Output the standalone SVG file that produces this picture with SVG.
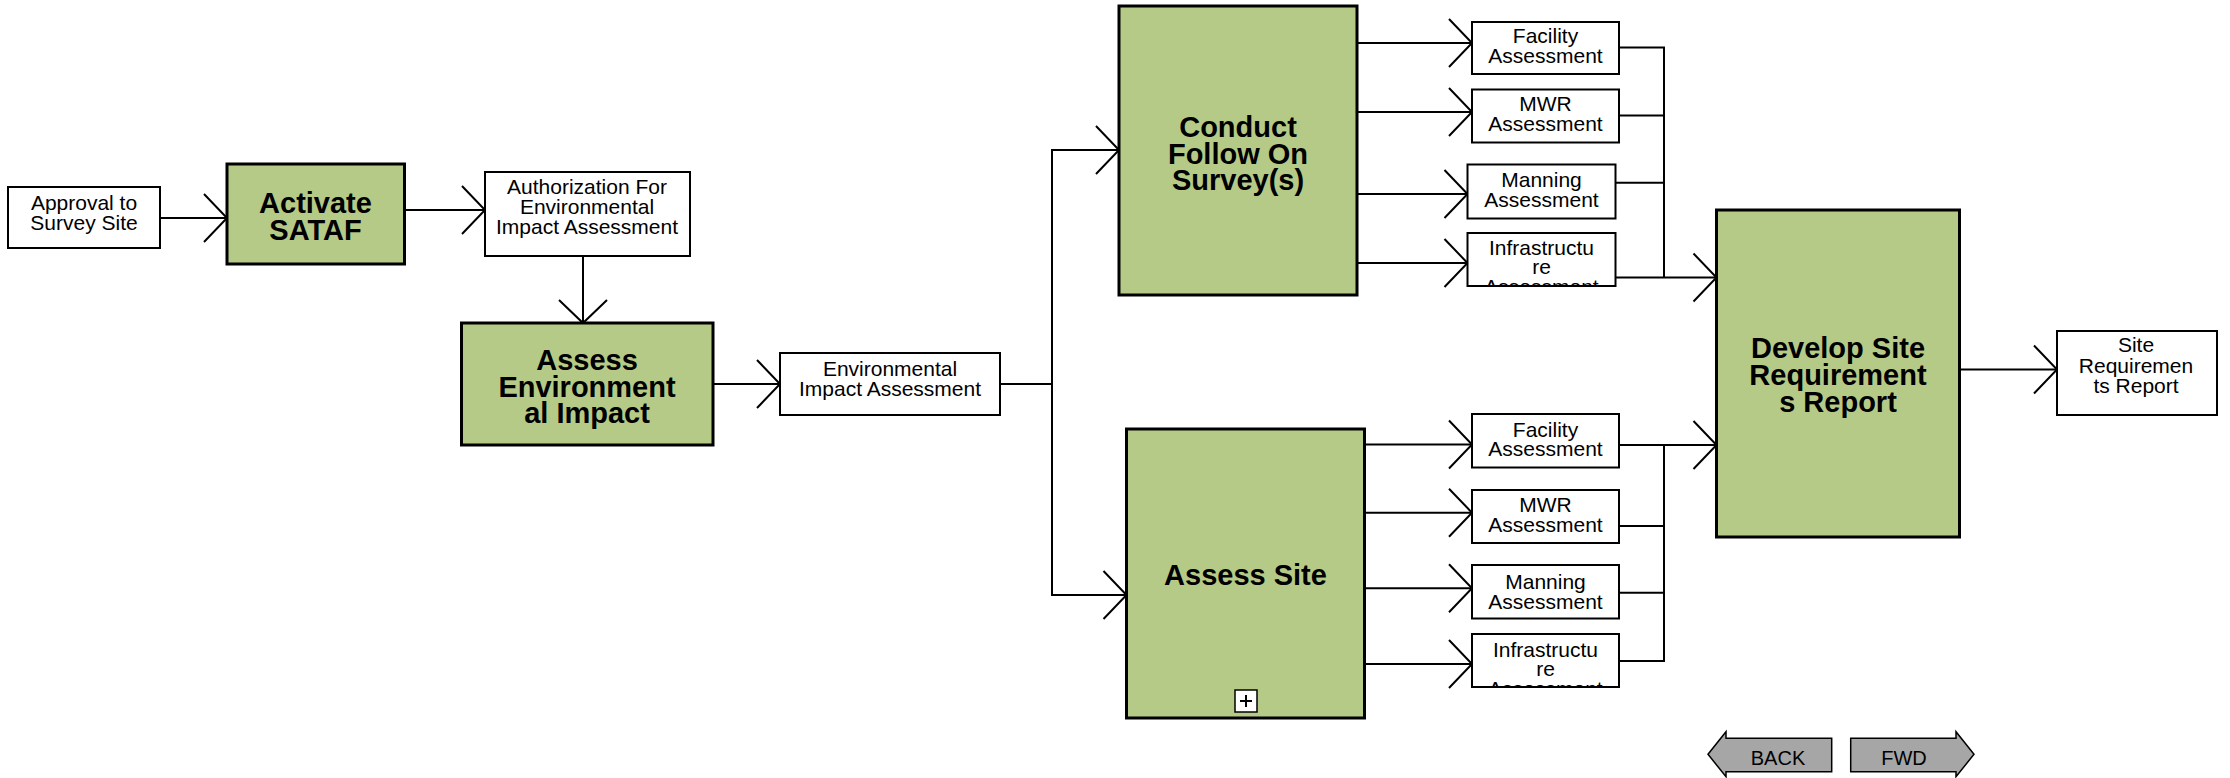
<svg xmlns="http://www.w3.org/2000/svg" width="2230" height="778" viewBox="0 0 2230 778">
<style>
.bg{fill:#ffffff}
.box{fill:#ffffff;stroke:#000;stroke-width:2}
.act{fill:#b6ca87;stroke:#000;stroke-width:3}
.t{font-family:"Liberation Sans",Arial,sans-serif;font-size:21px;fill:#000;text-anchor:middle}
.tb{font-family:"Liberation Sans",Arial,sans-serif;font-size:29px;font-weight:bold;fill:#000;text-anchor:middle}
.btn{fill:#a6a6a6;stroke:#000;stroke-width:1.5}
.bt{font-family:"Liberation Sans",Arial,sans-serif;font-size:20px;fill:#000;text-anchor:middle}
.c{fill:none;stroke:#000;stroke-width:2}
.ca{fill:none;stroke:#000;stroke-width:2;marker-end:url(#arr)}
</style>
<defs>
<marker id="arr" markerUnits="userSpaceOnUse" markerWidth="30" markerHeight="54" viewBox="-26 -27 30 54" refX="0" refY="0" orient="auto" overflow="visible">
<path d="M-23,-24 L0,0 L-23,24" fill="none" stroke="#000" stroke-width="2"/>
</marker>
<clipPath id="clipI1"><rect x="1468.5" y="234" width="146" height="51"/></clipPath>
<clipPath id="clipI2"><rect x="1473" y="635" width="145" height="51"/></clipPath>
</defs>
<rect class="bg" x="0" y="0" width="2230" height="778"/>

<g id="connectors">
<path class="ca" d="M160,218 H227"/>
<path class="ca" d="M404.5,210 H485"/>
<path class="ca" d="M583,256 V323"/>
<path class="ca" d="M713,384 H780"/>
<path class="ca" d="M1000,384 H1052 V150 H1119"/>
<path class="ca" d="M1052,384 V595 H1126.5"/>
<path class="ca" d="M1357,43 H1472"/>
<path class="ca" d="M1357,112 H1472"/>
<path class="ca" d="M1357,194 H1467.5"/>
<path class="ca" d="M1357,263 H1467.5"/>
<path class="c" d="M1619,47.5 H1664 V277.5"/>
<path class="c" d="M1619,115.5 H1664"/>
<path class="c" d="M1615.5,182.7 H1664"/>
<path class="ca" d="M1615.5,277.5 H1716.5"/>
<path class="ca" d="M1364.5,444.5 H1472"/>
<path class="ca" d="M1364.5,512.7 H1472"/>
<path class="ca" d="M1364.5,588.3 H1472"/>
<path class="ca" d="M1364.5,664 H1472"/>
<path class="ca" d="M1619,445 H1716.5"/>
<path class="c" d="M1664,445 V661 H1619"/>
<path class="c" d="M1619,526 H1664"/>
<path class="c" d="M1619,592.7 H1664"/>
<path class="ca" d="M1960,369.5 H2057"/>
</g>

<g id="approval">
<rect class="box" x="8" y="187" width="152" height="61"/>
<text class="t" x="84" y="210">Approval to</text>
<text class="t" x="84" y="229.5">Survey Site</text>
</g>

<g id="activate-sataf">
<rect class="act" x="227" y="164" width="177.5" height="100"/>
<text class="tb" x="315.5" y="213">Activate</text>
<text class="tb" x="315.5" y="240">SATAF</text>
</g>

<g id="authorization">
<rect class="box" x="485" y="172" width="205" height="84"/>
<text class="t" x="587" y="194">Authorization For</text>
<text class="t" x="587" y="214">Environmental</text>
<text class="t" x="587" y="234">Impact Assessment</text>
</g>

<g id="assess-env">
<rect class="act" x="461.5" y="323" width="251.5" height="122"/>
<text class="tb" x="587" y="370">Assess</text>
<text class="tb" x="587" y="396.5">Environment</text>
<text class="tb" x="587" y="423">al Impact</text>
</g>

<g id="eia">
<rect class="box" x="780" y="353" width="220" height="62"/>
<text class="t" x="890" y="376">Environmental</text>
<text class="t" x="890" y="396">Impact Assessment</text>
</g>

<g id="conduct">
<rect class="act" x="1119" y="6" width="238" height="289"/>
<text class="tb" x="1238" y="137">Conduct</text>
<text class="tb" x="1238" y="163.5">Follow On</text>
<text class="tb" x="1238" y="190">Survey(s)</text>
</g>

<g id="facility1">
<rect class="box" x="1472" y="22" width="147" height="52"/>
<text class="t" x="1545.5" y="43.3">Facility</text>
<text class="t" x="1545.5" y="63.3">Assessment</text>
</g>

<g id="mwr1">
<rect class="box" x="1472" y="89.5" width="147" height="53"/>
<text class="t" x="1545.5" y="111">MWR</text>
<text class="t" x="1545.5" y="131">Assessment</text>
</g>

<g id="manning1">
<rect class="box" x="1467.5" y="164.5" width="148" height="54"/>
<text class="t" x="1541.5" y="186.7">Manning</text>
<text class="t" x="1541.5" y="206.7">Assessment</text>
</g>

<g id="infra1">
<rect class="box" x="1467.5" y="233" width="148" height="53"/>
<g clip-path="url(#clipI1)">
<text class="t" x="1541.5" y="254.5">Infrastructu</text>
<text class="t" x="1541.5" y="274">re</text>
<text class="t" x="1541.5" y="294">Assessment</text>
</g>
</g>

<g id="assess-site">
<rect class="act" x="1126.5" y="429" width="238" height="289"/>
<text class="tb" x="1245.5" y="585">Assess Site</text>
<rect x="1235" y="690" width="22" height="22" fill="#fff" stroke="#000" stroke-width="1.5"/>
<path d="M1240,701 H1252 M1246,695 V707" stroke="#000" stroke-width="2" fill="none"/>
</g>

<g id="facility2">
<rect class="box" x="1472" y="414" width="147" height="53.5"/>
<text class="t" x="1545.5" y="436.7">Facility</text>
<text class="t" x="1545.5" y="456">Assessment</text>
</g>

<g id="mwr2">
<rect class="box" x="1472" y="490" width="147" height="53"/>
<text class="t" x="1545.5" y="511.7">MWR</text>
<text class="t" x="1545.5" y="531.7">Assessment</text>
</g>

<g id="manning2">
<rect class="box" x="1472" y="565" width="147" height="53.5"/>
<text class="t" x="1545.5" y="589">Manning</text>
<text class="t" x="1545.5" y="608.5">Assessment</text>
</g>

<g id="infra2">
<rect class="box" x="1472" y="634" width="147" height="53"/>
<g clip-path="url(#clipI2)">
<text class="t" x="1545.5" y="656.7">Infrastructu</text>
<text class="t" x="1545.5" y="676">re</text>
<text class="t" x="1545.5" y="696">Assessment</text>
</g>
</g>

<g id="develop">
<rect class="act" x="1716.5" y="210" width="243" height="327"/>
<text class="tb" x="1838" y="358">Develop Site</text>
<text class="tb" x="1838" y="385">Requirement</text>
<text class="tb" x="1838" y="411.7">s Report</text>
</g>

<g id="site-req">
<rect class="box" x="2057" y="331" width="160" height="84"/>
<text class="t" x="2136" y="352">Site</text>
<text class="t" x="2136" y="372.5">Requiremen</text>
<text class="t" x="2136" y="392.5">ts Report</text>
</g>

<g id="back">
<polygon class="btn" points="1708,754.3 1726,731.7 1726,738.3 1831.7,738.3 1831.7,771.7 1726,771.7 1726,776.7"/>
<text class="bt" x="1778" y="765">BACK</text>
</g>

<g id="fwd">
<polygon class="btn" points="1850.7,738.3 1956,738.3 1956,731.7 1974,754.3 1956,776.7 1956,771.7 1850.7,771.7"/>
<text class="bt" x="1904" y="765">FWD</text>
</g>
</svg>
